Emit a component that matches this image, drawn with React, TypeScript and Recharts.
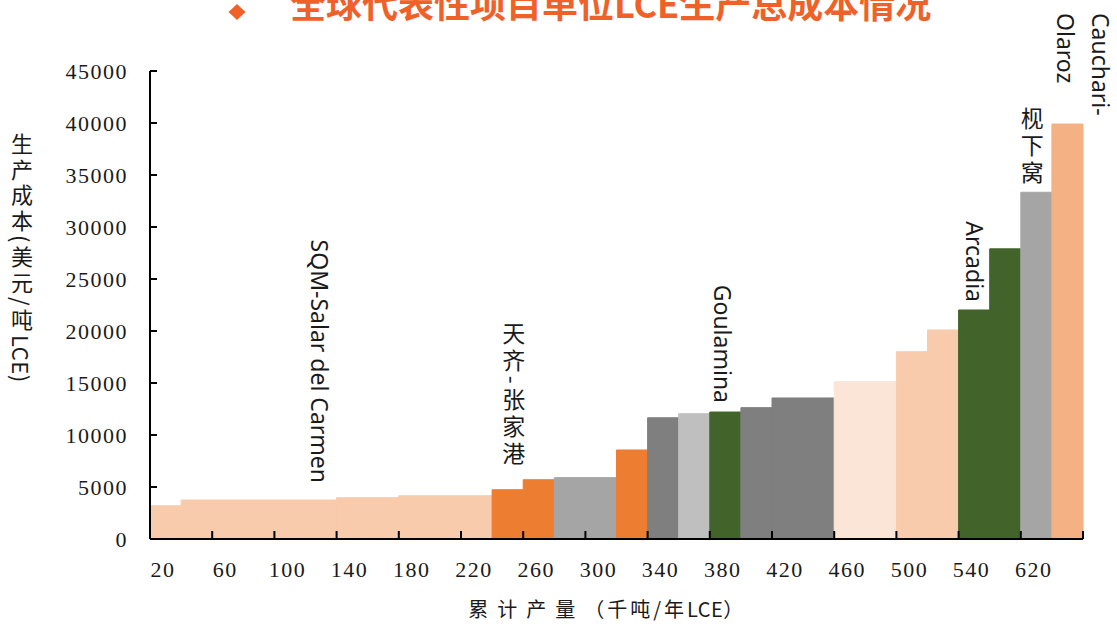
import React from "react";
import { ComposedChart, Line, ReferenceArea, XAxis, YAxis } from "recharts";

// capacity of each project (kt/yr LCE) and its unit cost (USD/t LCE), left to right
const CAPACITY = [20, 100, 40, 60, 20, 20, 40, 20, 20, 20, 20, 20, 40, 40, 20, 20, 20, 20, 20, 20];
const COST = [
  3200, 3750, 3970, 4160, 4740, 5700, 5900, 8560, 11660, 12050, 12210, 12630, 13560, 15130, 18010,
  20100, 22020, 27900, 33340, 39900,
];
const PROJECT_LABELS = [
  "", "SQM-Salar del Carmen", "", "", "天齐-张家港", "", "", "", "", "", "Goulamina", "", "", "", "",
  "", "Arcadia", "", "枧下窝", "Cauchari-\nOlaroz",
];
const X_TICK_LABELS = ["20", "60", "100", "140", "180", "220", "260", "300", "340", "380", "420", "460", "500", "540", "620"];
const Y_TICKS = [0, 5000, 10000, 15000, 20000, 25000, 30000, 35000, 40000, 45000];

const PEACH = "#F8CBAD";
const ORANGE = "#ED7D31";
const GRAY = "#A5A5A5";
const DARK_GRAY = "#7F7F7F";
const LIGHT_GRAY = "#BFBFBF";
const GREEN = "#42642A";
const BAR_COLORS = [
  PEACH, PEACH, PEACH, PEACH, ORANGE, ORANGE, GRAY, ORANGE, DARK_GRAY, LIGHT_GRAY, GREEN, DARK_GRAY,
  DARK_GRAY, "#FBE5D6", PEACH, PEACH, GREEN, GREEN, GRAY, "#F4B183",
];

// label placement relative to the bar it sits on (px)
const LABEL_LAYOUT: Record<number, { dx: number; gap: number; cjk?: boolean; top?: number }> = {
  1: { dx: 61, gap: 17 },
  4: { dx: 6, gap: 21, cjk: true },
  10: { dx: -2, gap: 9 },
  16: { dx: 1, gap: 8 },
  18: { dx: -4, gap: 4, cjk: true },
  19: { dx: 34, gap: 0, top: 111 },
};

const SERIF = "'Liberation Serif', 'DejaVu Serif', serif";
const SANS = "'Noto Sans', 'Open Sans', sans-serif";
const CJK = "'Noto Sans CJK SC', sans-serif";
const TEXT = "#1a1a1a";

const bars = CAPACITY.map((w, i) => {
  const x0 = CAPACITY.slice(0, i).reduce((a, b) => a + b, 0);
  return { x0, x1: x0 + w, mid: x0 + w / 2, cost: COST[i], label: PROJECT_LABELS[i], color: BAR_COLORS[i] };
});
const X_MAX = bars[bars.length - 1].x1;
const X_TICKS = [...X_TICK_LABELS.map((_, i) => i * 40), X_MAX];

function XTick(props: any) {
  const { x, y, index } = props;
  const label = X_TICK_LABELS[index];
  return (
    <g>
      <line x1={x} y1={y} x2={x} y2={y - 8} stroke="#000" strokeWidth={2} />
      {label && (
        <text x={x + 13} y={y + 30} dy="0.35em" textAnchor="middle" fontFamily={SERIF} fontSize={22}
          letterSpacing={1.5} fill={TEXT}>
          {label}
        </text>
      )}
    </g>
  );
}

function YTick(props: any) {
  const { x, y, payload } = props;
  return (
    <g>
      {payload.value > 0 && <line x1={x} y1={y} x2={x + 7} y2={y} stroke="#000" strokeWidth={2} />}
      <text x={x - 22} y={y} dy="0.35em" textAnchor="end" fontFamily={SERIF} fontSize={22}
        letterSpacing={1.5} fill={TEXT}>
        {payload.value}
      </text>
    </g>
  );
}

function BarLabel(props: any) {
  const { viewBox, index } = props;
  const layout = LABEL_LAYOUT[index];
  const text = PROJECT_LABELS[index];
  if (!viewBox || !layout || !text) return null;
  const cx = viewBox.x + viewBox.width / 2 + layout.dx;
  const endY = viewBox.y - layout.gap;
  if (layout.cjk) {
    return (
      <text x={cx} y={endY} textAnchor="end" fontFamily={CJK} fontSize={23} letterSpacing={4} fill={TEXT}
        style={{ writingMode: "vertical-rl" }}>
        {text}
      </text>
    );
  }
  const lines = text.split("\n");
  if (layout.top != null) {
    const topY = viewBox.y - layout.top;
    return (
      <g>
        {lines.map((ln, i) => {
          const lx = cx - i * 35;
          return (
            <text key={i} x={lx} y={topY} textAnchor="start" dominantBaseline="central" fontFamily={SANS}
              fontSize={23} fill={TEXT} transform={`rotate(90 ${lx} ${topY})`}>
              {ln}
            </text>
          );
        })}
      </g>
    );
  }
  return (
    <text x={cx} y={endY} textAnchor="end" dominantBaseline="central" fontFamily={SANS} fontSize={23}
      fill={TEXT} transform={`rotate(90 ${cx} ${endY})`}>
      {text}
    </text>
  );
}

export default function App() {
  return (
    <div style={{ position: "absolute", left: 0, top: 0, width: 1117, height: 624, background: "#fff" }}>
      <ComposedChart width={1117} height={624} data={bars} margin={{ top: 71, right: 34, bottom: 0, left: 0 }}>
        <XAxis
          dataKey="mid"
          type="number"
          domain={[0, X_MAX]}
          ticks={X_TICKS}
          interval={0}
          height={85}
          tickSize={0}
          tickMargin={0}
          tickLine={false}
          axisLine={{ stroke: "#000", strokeWidth: 2 }}
          tick={<XTick />}
        />
        <YAxis
          type="number"
          domain={[0, 45000]}
          ticks={Y_TICKS}
          interval={0}
          width={150}
          tickSize={0}
          tickMargin={0}
          tickLine={false}
          axisLine={{ stroke: "#000", strokeWidth: 2 }}
          tick={<YTick />}
        />
        {bars.map((b, i) => (
          <ReferenceArea
            key={i}
            x1={b.x0}
            x2={b.x1}
            y1={0}
            y2={b.cost}
            fill={b.color}
            fillOpacity={1}
            stroke={b.color}
            strokeWidth={1}
            label={b.label ? <BarLabel index={i} /> : undefined}
          />
        ))}
        <Line dataKey="cost" stroke="none" dot={false} activeDot={false} isAnimationActive={false} />
      </ComposedChart>
      <svg width={1117} height={624} style={{ position: "absolute", left: 0, top: 0, pointerEvents: "none" }}>
        <polygon points="237,4 245.5,12 237,20 228.5,12" fill="#F0612A" />
        <text x={290} y={18} fontFamily={CJK} fontWeight={700} fontSize={36} fill="#F0612A">
          全球代表性项目单位LCE生产总成本情况
        </text>
        <text x={22} y={133} fontFamily={CJK} fontSize={22} fill={TEXT} style={{ writingMode: "vertical-rl" }}>
          <tspan letterSpacing={3.5}>生产成本(美元/吨</tspan>
          <tspan letterSpacing={0.5}>LCE)</tspan>
        </text>
        <text x={606} y={617} textAnchor="middle" fontFamily={CJK} fontSize={20} fill={TEXT}>
          <tspan letterSpacing={9}>累计产量</tspan>
          <tspan letterSpacing={3}>（千吨/年</tspan>
          <tspan letterSpacing={0.5}>LCE）</tspan>
        </text>
      </svg>
    </div>
  );
}
